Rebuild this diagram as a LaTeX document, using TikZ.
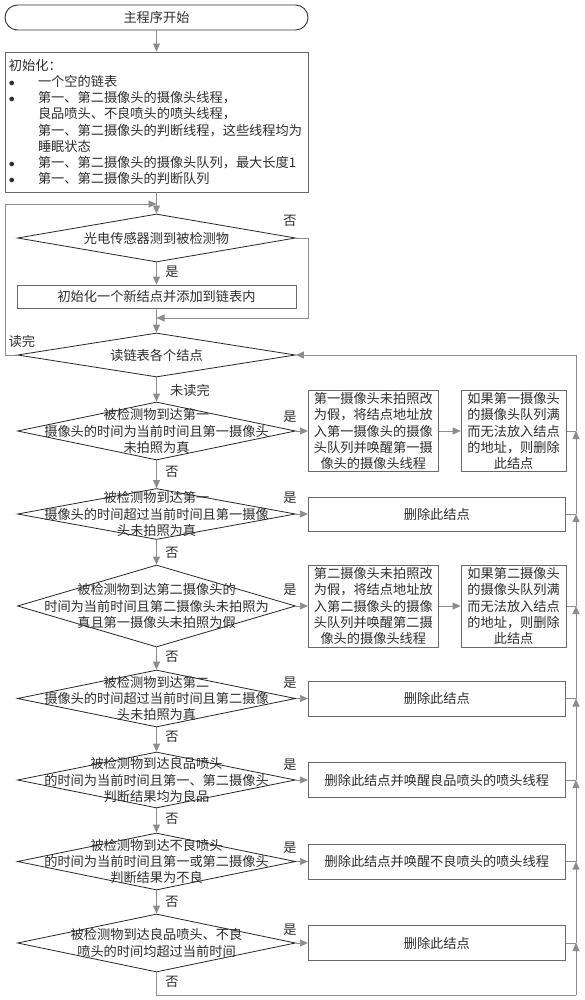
\documentclass[tikz,border=0pt]{standalone}
\usepackage{fontspec}
\setmainfont{Noto Sans CJK SC}
\usepackage{tikz}
\usetikzlibrary{shapes.geometric, arrows.meta, positioning}
\definecolor{linegray}{RGB}{140,140,140}
\definecolor{boxgray}{RGB}{105,105,105}
\definecolor{txtgray}{RGB}{45,45,45}
\tikzstyle{arrow} = [draw=linegray, line width=0.8pt, -{Triangle[length=8pt,width=7pt]}]
\tikzstyle{line} = [draw=linegray, line width=0.8pt]
\tikzstyle{startstop} = [rectangle, rounded corners=12.5pt, draw=black!80, line width=0.9pt, minimum width=303pt, minimum height=25pt]
\tikzstyle{process} = [rectangle, draw=boxgray, line width=0.8pt, align=center, inner sep=1pt]
\tikzstyle{decision} = [diamond, draw=black!85, line width=0.8pt, minimum width=278pt, inner sep=0pt]
\tikzstyle{dtext} = [align=center, inner sep=0pt]
\tikzstyle{lbl} = [inner sep=0pt]

\begin{document}
\begin{tikzpicture}[x=1pt, y=-1pt, font=\fontsize{13.2}{16.2}\selectfont, text=txtgray]
    \useasboundingbox (0,0) rectangle (585,1000);
    % main column
    \node[startstop] (start) at (156.5,17.5) {主程序开始};
    \node[process, text width=295pt, align=left, minimum width=303pt, minimum height=140pt, inner xsep=4pt, inner ysep=1pt] (init) at (156.5,122) {初始化：\\
        \makebox[29pt][l]{$\bullet$}一个空的链表\\
        \makebox[29pt][l]{$\bullet$}第一、第二摄像头的摄像头线程，\\
        \hspace*{29pt}良品喷头、不良喷头的喷头线程，\\
        \hspace*{29pt}第一、第二摄像头的判断线程，这些线程均为\\
        \hspace*{29pt}睡眠状态\\
        \makebox[29pt][l]{$\bullet$}第一、第二摄像头的摄像头队列，最大长度1\\
        \makebox[29pt][l]{$\bullet$}第一、第二摄像头的判断队列};
    \node[decision, minimum height=48pt] (detect) at (156.5,238) {};
    \node[dtext] (detectt) at (detect) {光电传感器测到被检测物};
    \node[process, minimum width=279pt, minimum height=23pt] (newnode) at (156.5,296.5) {初始化一个新结点并添加到链表内};
    \node[decision, minimum height=44pt] (read) at (156.5,355) {};
    \node[dtext] (readt) at (read) {读链表各个结点};
    \coordinate (j1) at (156.5,204);
    \coordinate (j2) at (156.5,318);

    \node[decision, minimum height=58pt] (d1) at (156.5,431) {};
    \node[dtext] (d1t) at (d1) {被检测物到达第一\\摄像头的时间为当前时间且第一摄像头\\未拍照为真};
    \node[decision, minimum height=51pt] (d2) at (156.5,514) {};
    \node[dtext] (d2t) at (d2) {被检测物到达第一\\摄像头的时间超过当前时间且第一摄像\\头未拍照为真};
    \node[decision, minimum height=82pt] (d3) at (156.5,606) {};
    \node[dtext] (d3t) at (d3) {被检测物到达第二摄像头的\\时间为当前时间且第二摄像头未拍照为\\真且第一摄像头未拍照为假};
    \node[decision, minimum height=57pt] (d4) at (156.5,698.5) {};
    \node[dtext] (d4t) at (d4) {被检测物到达第二\\摄像头的时间超过当前时间且第二摄像\\头未拍照为真};
    \node[decision, minimum height=56pt] (d5) at (156.5,780) {};
    \node[dtext] (d5t) at (d5) {被检测物到达良品喷头\\的时间为当前时间且第一、第二摄像头\\判断结果均为良品};
    \node[decision, minimum height=57pt] (d6) at (156.5,861.5) {};
    \node[dtext] (d6t) at (d6) {被检测物到达不良喷头\\的时间为当前时间且第一或第二摄像头\\判断结果为不良};
    \node[decision, minimum height=58pt] (d7) at (156.5,943) {};
    \node[dtext] (d7t) at (d7) {被检测物到达良品喷头、不良\\喷头的时间均超过当前时间};

    % right column
    \node[process, minimum width=130pt, minimum height=81pt, right=12pt of d1] (r1a) {第一摄像头未拍照改\\为假，将结点地址放\\入第一摄像头的摄像\\头队列并唤醒第一摄\\像头的摄像头线程};
    \node[process, minimum width=105pt, minimum height=81pt, right=22pt of r1a] (r1b) {如果第一摄像头\\的摄像头队列满\\而无法放入结点\\的地址，则删除\\此结点};
    \node[process, minimum width=257pt, minimum height=34pt, right=12pt of d2] (r2) {删除此结点};
    \node[process, minimum width=130pt, minimum height=82pt, right=12pt of d3] (r3a) {第二摄像头未拍照改\\为假，将结点地址放\\入第二摄像头的摄像\\头队列并唤醒第二摄\\像头的摄像头线程};
    \node[process, minimum width=105pt, minimum height=82pt, right=22pt of r3a] (r3b) {如果第二摄像头\\的摄像头队列满\\而无法放入结点\\的地址，则删除\\此结点};
    \node[process, minimum width=257pt, minimum height=35pt, right=12pt of d4] (r4) {删除此结点};
    \node[process, minimum width=257pt, minimum height=35pt, right=12pt of d5] (r5) {删除此结点并唤醒良品喷头的喷头线程};
    \node[process, minimum width=257pt, minimum height=35pt, right=12pt of d6] (r6) {删除此结点并唤醒不良喷头的喷头线程};
    \node[process, minimum width=257pt, minimum height=35pt, right=12pt of d7] (r7) {删除此结点};

    % return line on the right
    \coordinate (c1) at (576,431);
    \coordinate (c2) at (576,514);
    \coordinate (c3) at (576,606);
    \coordinate (c4) at (576,698.5);
    \coordinate (c5) at (576,780);
    \coordinate (c6) at (576,861.5);
    \coordinate (c7) at (576,943);
    \coordinate (c8) at (576,995);
    \coordinate (b1) at (156.5,995);

    % connectors
    \draw[arrow] (start) -- (init);
    \draw[arrow] (init) -- (detect);
    \draw[arrow] (read.west) -- (5,355) -- (5,204) -- (j1);
    \draw[arrow] (detect) -- (newnode);
    \draw[arrow] (detect.east) -- (308,238) -- (308,318) -- (j2);
    \draw[arrow] (newnode) -- (read);
    \draw[arrow] (read) -- (d1);
    \draw[arrow] (d1) -- (d2);
    \draw[arrow] (d2) -- (d3);
    \draw[arrow] (d3) -- (d4);
    \draw[arrow] (d4) -- (d5);
    \draw[arrow] (d5) -- (d6);
    \draw[arrow] (d6) -- (d7);
    \draw[line] (d7) -- (b1) -- (c8);
    \draw[arrow] (d1) -- (r1a);
    \draw[arrow] (r1a) -- (r1b);
    \draw[arrow] (d2) -- (r2);
    \draw[arrow] (d3) -- (r3a);
    \draw[arrow] (r3a) -- (r3b);
    \draw[arrow] (d4) -- (r4);
    \draw[arrow] (d5) -- (r5);
    \draw[arrow] (d6) -- (r6);
    \draw[arrow] (d7) -- (r7);
    \draw[line] (r1b) -- (c1);
    \draw[line] (r2) -- (c2);
    \draw[line] (r3b) -- (c3);
    \draw[line] (r4) -- (c4);
    \draw[line] (r5) -- (c5);
    \draw[line] (r6) -- (c6);
    \draw[line] (r7) -- (c7);
    \draw[arrow] (c8) -- (c7);
    \draw[arrow] (c7) -- (c6);
    \draw[arrow] (c6) -- (c5);
    \draw[arrow] (c5) -- (c4);
    \draw[arrow] (c4) -- (c3);
    \draw[arrow] (c3) -- (c2);
    \draw[arrow] (c2) -- (c1);
    \draw[arrow] (c1) -- (576,355) -- (read.east);

    % labels
    \node[lbl] (no0) at (290,221) {否};
    \node[lbl] (yes0) at (172,272) {是};
    \node[lbl] (done) at (22,341) {读完};
    \node[lbl] (notdone) at (190,390) {未读完};
    \node[lbl] (yes1) at (290,417) {是};
    \node[lbl] (no1) at (172,472) {否};
    \node[lbl] (yes2) at (290,498) {是};
    \node[lbl] (no2) at (172,553) {否};
    \node[lbl] (yes3) at (290,590) {是};
    \node[lbl] (no3) at (172,657) {否};
    \node[lbl] (yes4) at (290,683) {是};
    \node[lbl] (no4) at (172,737) {否};
    \node[lbl] (yes5) at (290,765) {是};
    \node[lbl] (no5) at (172,819) {否};
    \node[lbl] (yes6) at (290,848) {是};
    \node[lbl] (no6) at (172,902) {否};
    \node[lbl] (yes7) at (290,930) {是};
    \node[lbl] (no7) at (172,982) {否};
\end{tikzpicture}
\end{document}
